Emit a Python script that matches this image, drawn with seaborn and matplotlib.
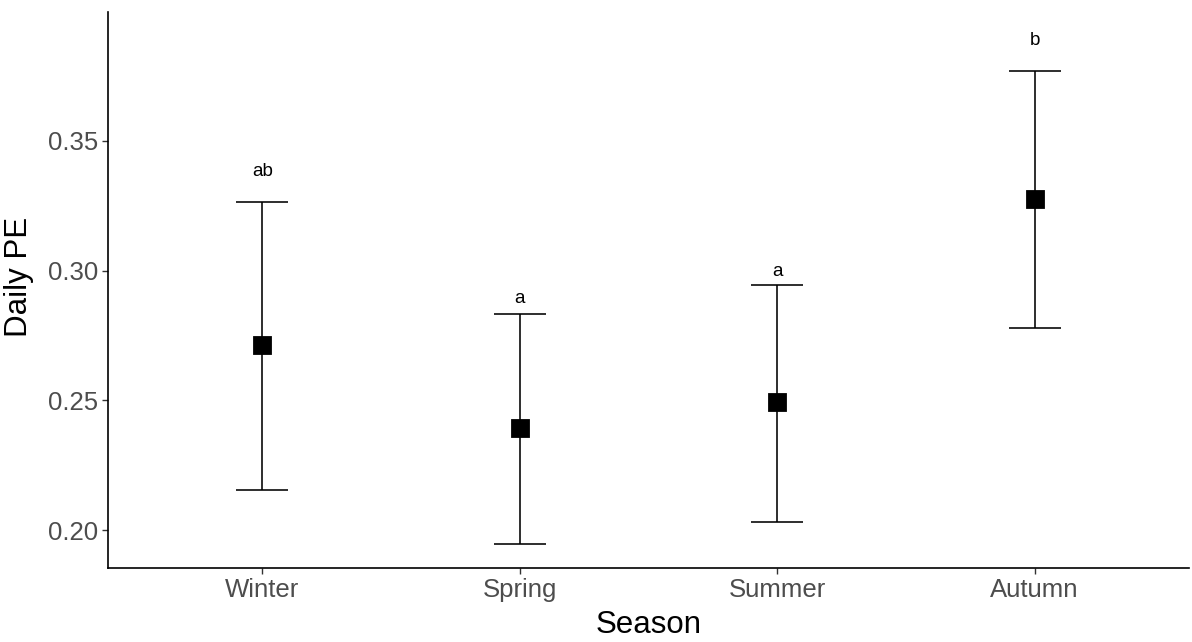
import pandas as pd
import numpy as np
import matplotlib
matplotlib.use('Agg')
import matplotlib.pyplot as plt
import seaborn as sns

# == datos
estaciones = ['Winter', 'Spring', 'Summer', 'Autumn']
media = [0.2713, 0.2393, 0.2493, 0.3276]
lim_inf = [0.2154, 0.1946, 0.2031, 0.2779]
lim_sup = [0.3266, 0.2834, 0.2946, 0.3768]
letras = ['ab', 'a', 'a', 'b']
pos_letra = [0.3384, 0.2893, 0.2998, 0.3889]

df = pd.DataFrame({'Season': estaciones, 'PE': media,
                   'lo': lim_inf, 'hi': lim_sup})

sns.set_style('white')
plt.rcParams['font.family'] = ['Liberation Sans', 'DejaVu Sans']

fig = plt.figure(figsize=(11.92, 6.42), dpi=100)
ax = fig.add_axes([0.0906, 0.1153, 0.9069, 0.866])

# barras de error
x = np.arange(len(estaciones))
ax.errorbar(x, df['PE'], yerr=[df['PE'] - df['lo'], df['hi'] - df['PE']],
            fmt='none', ecolor='black', elinewidth=1.15, capsize=19,
            capthick=1.15, zorder=2)

# puntos (cuadrados)
sns.pointplot(data=df, x='Season', y='PE', order=estaciones,
              linestyle='none', marker='s', markersize=12, color='black',
              errorbar=None, ax=ax, zorder=3)

for i, t in enumerate(letras):
    ax.text(i, pos_letra[i], t, ha='center', va='center', fontsize=13.5,
            color='black')

ax.set_xlim(-0.6, 3.6)
ax.set_ylim(0.1854, 0.3997)
ax.set_yticks([0.20, 0.25, 0.30, 0.35])
ax.set_yticklabels(['0.20', '0.25', '0.30', '0.35'])

for s in ['top', 'right']:
    ax.spines[s].set_visible(False)
for s in ['left', 'bottom']:
    ax.spines[s].set_color('black')
    ax.spines[s].set_linewidth(1.2)

ax.tick_params(axis='both', which='both', length=4, width=1,
               color='#333333', labelsize=18.5, labelcolor='#4d4d4d',
               left=True, bottom=True, pad=3)
ax.set_xlabel('Season', fontsize=22.5, color='black', labelpad=6)
ax.set_ylabel('Daily PE', fontsize=22.5, color='black')
ax.yaxis.set_label_coords(-0.0685, 0.523)

fig.savefig('out.png', dpi=100)
